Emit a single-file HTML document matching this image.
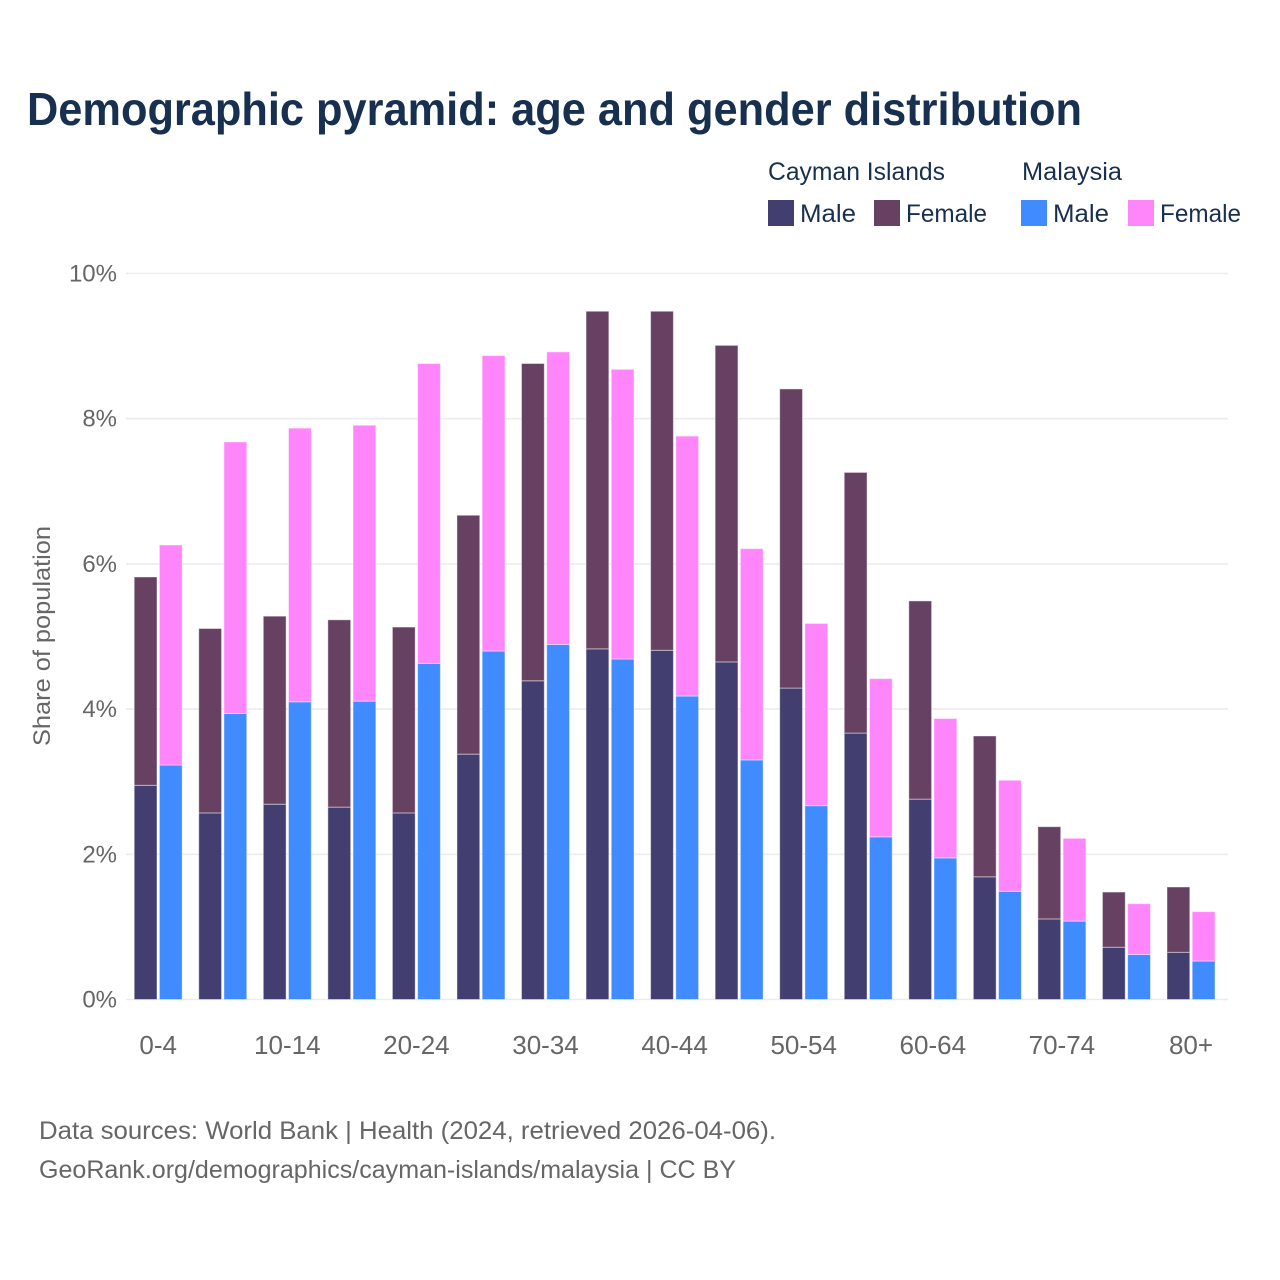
<!DOCTYPE html>
<html>
<head>
<meta charset="utf-8">
<title>Demographic pyramid</title>
<style>
html,body{margin:0;padding:0;background:#fff;}
svg{display:block;font-family:"Liberation Sans",sans-serif;}
</style>
</head>
<body>
<svg id="chart" width="1280" height="1280" viewBox="0 0 1280 1280" xmlns="http://www.w3.org/2000/svg">
<rect width="1280" height="1280" fill="#fff"/>
<text x="27" y="125" font-size="46" font-weight="700" fill="#18304f" textLength="1055" lengthAdjust="spacingAndGlyphs">Demographic pyramid: age and gender distribution</text>

<g id="legend" font-size="25" fill="#18304f">
<text x="768" y="180" textLength="177" lengthAdjust="spacingAndGlyphs">Cayman Islands</text>
<text x="1022" y="180" textLength="100" lengthAdjust="spacingAndGlyphs">Malaysia</text>
<rect x="768" y="200" width="26" height="26" fill="#423e70"/>
<text x="800" y="222" textLength="56" lengthAdjust="spacingAndGlyphs">Male</text>
<rect x="874" y="200" width="26" height="26" fill="#664161"/>
<text x="906" y="222" textLength="81" lengthAdjust="spacingAndGlyphs">Female</text>
<rect x="1021" y="200" width="26" height="26" fill="#3f8bff"/>
<text x="1053" y="222" textLength="56" lengthAdjust="spacingAndGlyphs">Male</text>
<rect x="1128" y="200" width="26" height="26" fill="#ff86fa"/>
<text x="1160" y="222" textLength="81" lengthAdjust="spacingAndGlyphs">Female</text>
</g>

<text transform="translate(50,636) rotate(-90)" text-anchor="middle" font-size="24" fill="#666" textLength="220" lengthAdjust="spacingAndGlyphs">Share of population</text>

<g id="grid"></g>
<g id="bars"></g>
<g id="xlabels"></g>

<text x="39" y="1139" font-size="25" fill="#666" textLength="737" lengthAdjust="spacingAndGlyphs">Data sources: World Bank | Health (2024, retrieved 2026-04-06).</text>
<text x="39" y="1178" font-size="25" fill="#666" textLength="697" lengthAdjust="spacingAndGlyphs">GeoRank.org/demographics/cayman-islands/malaysia | CC BY</text>
</svg>
<script>
const categories = ['0-4','5-9','10-14','15-19','20-24','25-29','30-34','35-39','40-44','45-49','50-54','55-59','60-64','65-69','70-74','75-79','80+'];
const xTickLabels = ['0-4','','10-14','','20-24','','30-34','','40-44','','50-54','','60-64','','70-74','','80+'];
const yTicks = [0,2,4,6,8,10];
const caymanMale = [2.95,2.57,2.69,2.65,2.57,3.38,4.39,4.83,4.81,4.65,4.29,3.67,2.76,1.69,1.11,0.72,0.65];
const caymanFemale = [2.87,2.54,2.59,2.58,2.56,3.29,4.37,4.65,4.67,4.36,4.12,3.59,2.73,1.94,1.27,0.76,0.90];
const malaysiaMale = [3.23,3.94,4.10,4.11,4.63,4.80,4.89,4.69,4.18,3.30,2.67,2.24,1.95,1.49,1.08,0.62,0.53];
const malaysiaFemale = [3.03,3.74,3.77,3.80,4.13,4.07,4.03,3.99,3.58,2.91,2.51,2.18,1.92,1.53,1.14,0.70,0.68];

const NS = 'http://www.w3.org/2000/svg';
const plotLeft = 126, plotRight = 1228, y0 = 999.5, pxPerUnit = 72.6;
const step = 64.55, firstCenter = 158.2;
const yScale = v => y0 - v * pxPerUnit;
const xCenter = i => firstCenter + i * step;

function make(tag, attrs, parent) {
  const el = document.createElementNS(NS, tag);
  for (const k in attrs) el.setAttribute(k, attrs[k]);
  parent.appendChild(el);
  return el;
}

const grid = document.getElementById('grid');
yTicks.forEach(t => {
  const line = make('line', {x1: plotLeft, x2: plotRight, y1: yScale(t), y2: yScale(t), stroke: '#ececec', 'stroke-width': 1.6}, grid);
  
  
  const label = make('text', {x: 117, y: yScale(t) + 8, 'text-anchor': 'end', 'font-size': 24, fill: '#666'}, grid);
  
  
  label.textContent = t + '%';
});

const bars = document.getElementById('bars');
function bar(x, w, base, val, fill, name) {
  const r = make('rect', {x: x, width: w, y: yScale(base + val), height: val * pxPerUnit, fill: fill, stroke: '#fff', 'stroke-opacity': 0.45, 'stroke-width': 1}, bars);
  
  
}
const barW = 22.8, gap = 1.2;
categories.forEach((c, i) => {
  const xc = xCenter(i);
  bar(xc - gap - barW, barW, 0, caymanMale[i], '#423e70', 'bar-cayman-male');
  bar(xc - gap - barW, barW, caymanMale[i], caymanFemale[i], '#664161', 'bar-cayman-female');
  bar(xc + gap, barW, 0, malaysiaMale[i], '#3f8bff', 'bar-malaysia-male');
  bar(xc + gap, barW, malaysiaMale[i], malaysiaFemale[i], '#ff86fa', 'bar-malaysia-female');
});

const xl = document.getElementById('xlabels');
xTickLabels.forEach((t, i) => {
  if (!t) return;
  const label = make('text', {x: xCenter(i), y: 1054, 'text-anchor': 'middle', 'font-size': 26, fill: '#666'}, xl);
  
  
  label.textContent = t;
});
</script>
</body>
</html>
